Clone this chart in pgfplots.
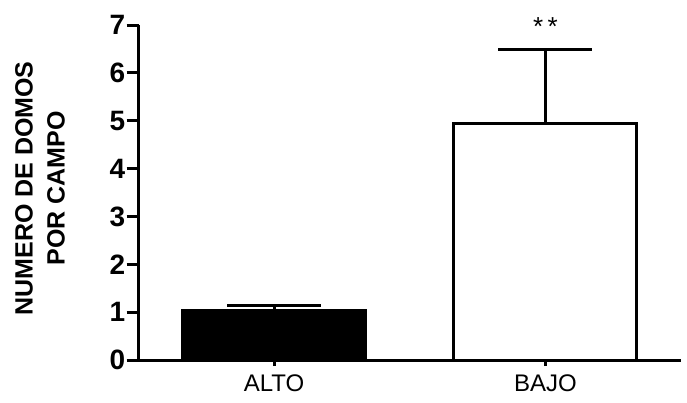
\documentclass[border=0pt]{standalone}
\usepackage{fontspec}
\setmainfont{Liberation Sans}
\usepackage{pgfplots}
\pgfplotsset{compat=1.18}
\begin{document}
\begin{tikzpicture}[x=1pt,y=1pt]
\useasboundingbox (0,0) rectangle (687,402);
\begin{axis}[
  at={(138.5pt,42pt)}, anchor=south west,
  scale only axis, width=542.5pt, height=335pt,
  xmin=-0.5, xmax=1.5, ymin=0, ymax=7,
  axis x line*=bottom, axis y line*=left,
  axis line style={line width=3pt, black},
  xtick={0,1}, xticklabels={ALTO,BAJO},
  ytick={0,1,2,3,4,5,6,7},
  tick align=outside, major tick length=12pt,
  tick style={line width=3pt, black},
  xtick style={/pgfplots/major tick length=6pt},
  /pgf/number format/assume math mode=true,
  yticklabel style={font=\fontsize{28}{30}\selectfont\bfseries, inner sep=1pt},
  xticklabel style={font=\fontsize{24}{28}\selectfont, inner sep=3pt},
  ylabel={NUMERO DE DOMOS\\POR CAMPO},
  every axis y label/.style={at={(axis description cs:0,0.5)}, xshift=-98.5pt, yshift=4pt, rotate=90, anchor=center,
     font=\fontsize{25}{32}\selectfont\bfseries, align=center},
  ybar, bar width=183pt, bar shift=0pt,
  clip=false,
]
\addplot[fill=black, draw=black, line width=3pt,
  error bars/.cd, y dir=plus, y explicit,
  error bar style={black, line width=3pt},
  error mark=-, error mark options={black, line width=3pt, mark size=47pt, rotate=90}]
  coordinates {(0,1.03) +- (0,0.11)};
\addplot[fill=white, draw=black, line width=3pt,
  error bars/.cd, y dir=plus, y explicit,
  error bar style={black, line width=3pt},
  error mark=-, error mark options={black, line width=3pt, mark size=47pt, rotate=90}]
  coordinates {(1,4.95) +- (0,1.53)};
\node[font=\fontsize{26}{28}\selectfont] at (axis cs:1,6.5) [yshift=22pt] {*\,*};
\end{axis}
\end{tikzpicture}
\end{document}
